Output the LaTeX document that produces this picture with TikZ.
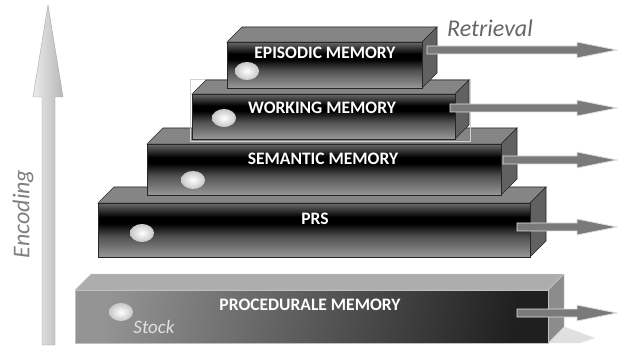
\documentclass[tikz,border=0pt]{standalone}
\usepackage{fontspec}
\setmainfont{Carlito}

\definecolor{facetop}{HTML}{6A6A6A}
\definecolor{facemid}{HTML}{505050}
\definecolor{facelow}{HTML}{989898}

% dark front face of a memory block (0bp = bottom)
\pgfdeclareverticalshading{blockfront}{100bp}{%
  color(0bp)=(facelow); color(25bp)=(facelow); color(44bp)=(facemid);
  color(56bp)=(black); color(62bp)=(black); color(75bp)=(facetop);
  color(100bp)=(facetop)}

\tikzset{
  frontface/.style={draw=black!85, line width=0.6pt, shading=blockfront},
  topface/.style={draw=black!85, line width=0.6pt, fill=black!48},
  sideface/.style={draw=black!85, line width=0.6pt, fill=black!62},
  ball/.style={inner color=white, outer color=black!22},
  retrieval/.style={fill=black!52, draw=black!12, line width=0.8pt},
  blocklabel/.style={text=white, font=\bfseries\fontsize{17.5}{17.5}\selectfont},
  sidetext/.style={font=\itshape\fontsize{24}{24}\selectfont}
}

\begin{document}
\begin{tikzpicture}[x=1pt, y=-1pt]
    \useasboundingbox (0,0) rectangle (618,347);

    % Encoding arrow
    \path[draw=black!35, left color=black!8, right color=black!28]
      (42,345) -- (42,97) -- (33,97) -- (48,5) -- (63,97) -- (55,97) -- (55,345) -- cycle;
    \node[sidetext, rotate=90, text=black!50] (enc) at (23,214) {Encoding};

    % Procedurale memory (light block)
    \fill[black!12] (548,343) -- (565,327) -- (595,338) -- (580,343) -- cycle;
    \draw[draw=black!20, fill=black!32] (75,290) -- ++(16,-16) -- (564,274) -- (548,290) -- cycle;
    \draw[draw=black!20, fill=black!45] (548,290) -- (564,274) -- (564,327) -- (548,343) -- cycle;
    \path[draw=black!25, left color=black!42, right color=black!88, shading angle=80] (75,290) rectangle (548,343);
    \node[blocklabel] (proc) at (310,305) {PROCEDURALE MEMORY};
    \shade[ball] (121,312) ellipse (12 and 9);
    \node[text=black!12, font=\itshape\fontsize{19}{19}\selectfont] (stock) at (154,327) {Stock};

    % PRS
    \draw[topface] (98,203) -- ++(16,-16) -- (546,187) -- (530,203) -- cycle;
    \draw[sideface] (530,203) -- (546,187) -- (546,241) -- (530,257) -- cycle;
    \path[frontface] (98,203) rectangle (530,257);
    \node[blocklabel] (prs) at (315,219) {PRS};
    \shade[ball] (142,233) ellipse (12 and 9);

    % Semantic memory
    \draw[topface] (147,144) -- ++(16,-16) -- (517,128) -- (501,144) -- cycle;
    \draw[sideface] (501,144) -- (517,128) -- (517,179) -- (501,195) -- cycle;
    \path[frontface] (147,144) rectangle (501,195);
    \node[blocklabel] (sem) at (323,159) {SEMANTIC MEMORY};
    \shade[ball] (193,180) ellipse (12 and 9);

    % Working memory
    \draw[black!18, line width=0.8pt] (190,79) rectangle (470,141);
    \draw[topface] (192,94) -- ++(14,-14) -- (469,80) -- (455,94) -- cycle;
    \draw[sideface] (455,94) -- (469,80) -- (469,125) -- (455,139) -- cycle;
    \path[frontface] (192,94) rectangle (455,139);
    \node[blocklabel] (wm) at (322,108) {WORKING MEMORY};
    \shade[ball] (224,118) ellipse (12 and 9);

    % Episodic memory
    \draw[topface] (227,42) -- ++(15,-15) -- (437,27) -- (422,42) -- cycle;
    \draw[sideface] (422,42) -- (437,27) -- (437,73) -- (422,88) -- cycle;
    \path[frontface] (227,42) rectangle (422,88);
    \node[blocklabel] (epi) at (325,53) {EPISODIC MEMORY};
    \shade[ball] (247,71) ellipse (12 and 9);

    % Retrieval arrows
    \node[sidetext, text=black!60] (retr) at (490,28) {Retrieval};
    \path[retrieval] (427,46) -- (577,46) -- (577,42) -- (617,50) -- (577,58) -- (577,54) -- (427,54) -- cycle;
    \path[retrieval] (450,104) -- (577,104) -- (577,100) -- (617,108) -- (577,116) -- (577,112) -- (450,112) -- cycle;
    \path[retrieval] (503,156) -- (577,156) -- (577,152) -- (617,160) -- (577,168) -- (577,164) -- (503,164) -- cycle;
    \path[retrieval] (517,223) -- (577,223) -- (577,219) -- (617,227) -- (577,235) -- (577,231) -- (517,231) -- cycle;
    \path[retrieval] (517,309) -- (577,309) -- (577,305) -- (617,313) -- (577,321) -- (577,317) -- (517,317) -- cycle;
\end{tikzpicture}
\end{document}
